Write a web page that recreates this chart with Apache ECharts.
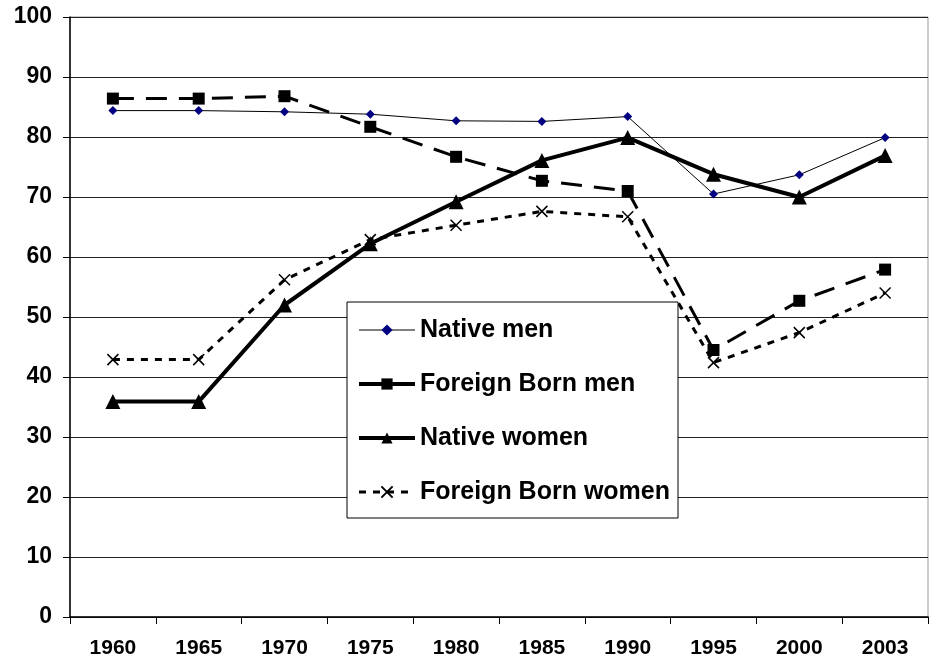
<!DOCTYPE html>
<html>
<head>
<meta charset="utf-8">
<script src="https://cdn.jsdelivr.net/npm/echarts@6/dist/echarts.min.js"></script>
<style>
html,body{margin:0;padding:0;background:#fff;}
#chart{width:931px;height:667px;}
</style>
</head>
<body>
<div id="chart"></div>
<script>
const years = ['1960','1965','1970','1975','1980','1985','1990','1995','2000','2003'];
const nativeMen = [84.4, 84.4, 84.2, 83.8, 82.7, 82.6, 83.4, 70.5, 73.7, 79.9];
const foreignMen = [86.4, 86.4, 86.8, 81.7, 76.7, 72.7, 71.0, 44.5, 52.7, 57.9];
const nativeWomen = [35.9, 35.9, 52.0, 62.2, 69.2, 76.1, 79.9, 73.8, 70.0, 76.9];
const foreignWomen = [42.9, 42.9, 56.2, 62.9, 65.3, 67.6, 66.7, 42.4, 47.4, 54.0];
const seriesNames = ['Native men','Foreign Born men','Native women','Foreign Born women'];

const font = '"Liberation Sans", Arial, sans-serif';
const chart = echarts.init(document.getElementById('chart'), null, {renderer:'canvas'});
chart.setOption({
  animation: false,
  backgroundColor: '#fff',
  grid: {left: 70, top: 17, right: 3, bottom: 50, show: true, borderColor: '#999', borderWidth: 1},
  legend: {
    orient: 'vertical',
    left: 347, top: 302,
    padding: [14, 8, 12, 10],
    itemGap: 26,
    itemWidth: 56,
    itemHeight: 14,
    backgroundColor: '#fff',
    borderColor: '#000',
    borderWidth: 1,
    borderRadius: 0,
    selectedMode: false,
    lineStyle: {width: 'inherit'},
    textStyle: {fontFamily: font, fontWeight: 'bold', fontSize: 25, color: '#000', lineHeight: 28},
    data: [
      {name: seriesNames[0]},
      {name: seriesNames[1], lineStyle: {type: 'solid', width: 4}},
      {name: seriesNames[2]},
      {name: seriesNames[3]}
    ]
  },
  xAxis: {
    type: 'category',
    data: years,
    boundaryGap: true,
    axisLine: {lineStyle: {color: '#000', width: 1.5}},
    axisTick: {show: true, length: 7, lineStyle: {color: '#000'}},
    axisLabel: {fontFamily: font, fontWeight: 'bold', fontSize: 21, color: '#000', margin: 21},
    splitLine: {show: false}
  },
  yAxis: {
    type: 'value',
    min: 0, max: 100, interval: 10,
    axisLine: {show: true, lineStyle: {color: '#000', width: 1.5}},
    axisTick: {show: true, length: 7, lineStyle: {color: '#000'}},
    axisLabel: {fontFamily: font, fontWeight: 'bold', fontSize: 23, color: '#000', margin: 18},
    splitLine: {show: true, lineStyle: {color: '#222', width: 1}}
  },
  series: [
    {
      name: seriesNames[0], type: 'line', data: nativeMen,
      symbol: 'diamond', symbolSize: 9,
      itemStyle: {color: '#000080'},
      lineStyle: {color: '#000', width: 1},
      emphasis: {disabled: true}, z: 5
    },
    {
      name: seriesNames[1], type: 'line', data: foreignMen,
      symbol: 'rect', symbolSize: 12,
      itemStyle: {color: '#000'},
      lineStyle: {color: '#000', width: 3, type: [21, 12]},
      emphasis: {disabled: true}, z: 3
    },
    {
      name: seriesNames[2], type: 'line', data: nativeWomen,
      symbol: 'triangle', symbolSize: 15,
      itemStyle: {color: '#000'},
      lineStyle: {color: '#000', width: 4},
      emphasis: {disabled: true}, z: 4
    },
    {
      name: seriesNames[3], type: 'line', data: foreignWomen,
      symbol: 'path://M0,0L10,10M10,0L0,10', symbolSize: 11,
      itemStyle: {color: 'none', borderColor: '#000', borderWidth: 1.5},
      lineStyle: {color: '#000', width: 3, type: [7, 7]},
      emphasis: {disabled: true}, z: 2
    }
  ]
});
</script>
</body>
</html>
